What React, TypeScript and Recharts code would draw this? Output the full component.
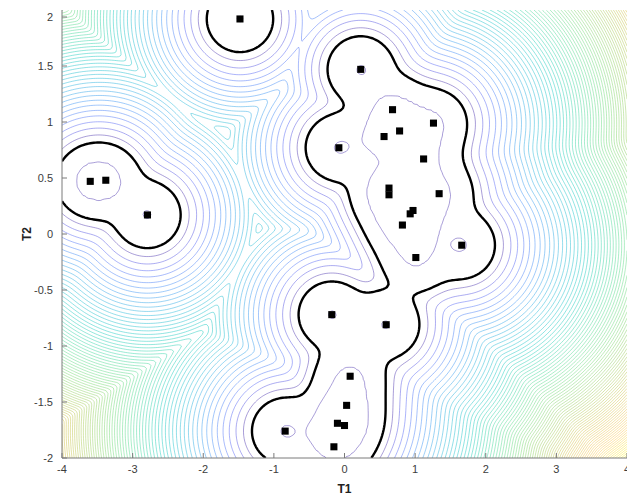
import { ComposedChart, Label, Line, Scatter, XAxis, YAxis, ZAxis } from "recharts"

// sample locations
const t1 = [
    -3.6, -3.38, -2.79, -1.48, 0.23, -0.08, 0.68, 1.26, 0.78, 0.56, 1.12, 0.63,
    0.63, 1.34, 0.97, 0.93, 0.82, 1.66, 1.01, -0.18, 0.59, 0.08, 0.03, -0.1,
    0.0, -0.15, -0.84,
]
const t2 = [
    0.47, 0.48, 0.17, 1.92, 1.47, 0.77, 1.11, 0.99, 0.92, 0.87, 0.67, 0.41,
    0.35, 0.36, 0.21, 0.18, 0.08, -0.1, -0.21, -0.72, -0.81, -1.27, -1.53,
    -1.69, -1.71, -1.9, -1.76,
]

const xTicks = [-4, -3, -2, -1, 0, 1, 2, 3, 4]
const yTicks = [-2, -1.5, -1, -0.5, 0, 0.5, 1, 1.5, 2]

// kernel settings: T2 is weighted relative to T1 before measuring distance
const bandwidth = 0.25
const t2Scale = 1.59
// potential g(d) = d + curvature * d^2 on the smoothed distance d
const curvature = 1.67
const innerLevel = 0.0128 // -log density of the inner boundary
const boundaryLevel = 1.77 // -log density of the decision boundary
const levelStep = 0.333
const colorGamma = 0.6

const samples = t1.map((x, i) => ({ x, y: t2[i] }))

const NX = 321
const NY = 161
const DX = 8 / (NX - 1)
const DY = 4 / (NY - 1)
const gx = (i: number) => -4 + i * DX
const gy = (j: number) => -2 + j * DY

const potential = (logDensity: number) => {
    const d = bandwidth * Math.sqrt(2 * Math.max(logDensity, 0))
    return d + curvature * d * d
}

const field = new Float64Array(NX * NY)
let fieldMax = -Infinity
{
    const s2 = 2 * bandwidth * bandwidth
    const q = new Float64Array(t1.length)
    for (let j = 0; j < NY; j++) {
        for (let i = 0; i < NX; i++) {
            const x = gx(i)
            const y = gy(j)
            let m = Infinity
            for (let k = 0; k < t1.length; k++) {
                q[k] = ((x - t1[k]) ** 2 + (t2Scale * (y - t2[k])) ** 2) / s2
                if (q[k] < m) m = q[k]
            }
            let s = 0
            for (let k = 0; k < t1.length; k++) s += Math.exp(m - q[k])
            const f = potential(m - Math.log(s))
            field[j * NX + i] = f
            if (f > fieldMax) fieldMax = f
        }
    }
}

type Pt = { x: number; y: number | null }

// marching squares, segments chained into polylines separated by null gaps
function contour(level: number): Pt[] {
    const NE = 2 * NX * NY
    const nbA = new Int32Array(NE).fill(-1)
    const nbB = new Int32Array(NE).fill(-1)
    const touched: number[] = []
    const link = (a: number, b: number) => {
        if (nbA[a] < 0) {
            nbA[a] = b
            touched.push(a)
        } else nbB[a] = b
        if (nbA[b] < 0) {
            nbA[b] = a
            touched.push(b)
        } else nbB[b] = a
    }
    for (let j = 0; j < NY - 1; j++) {
        for (let i = 0; i < NX - 1; i++) {
            const p = j * NX + i
            const fa = field[p]
            const fb = field[p + 1]
            const fc = field[p + NX + 1]
            const fd = field[p + NX]
            const c =
                (fa > level ? 1 : 0) |
                (fb > level ? 2 : 0) |
                (fc > level ? 4 : 0) |
                (fd > level ? 8 : 0)
            if (c === 0 || c === 15) continue
            const e0 = 2 * p
            const e1 = 2 * (p + 1) + 1
            const e2 = 2 * (p + NX)
            const e3 = 2 * p + 1
            const mid = (fa + fb + fc + fd) / 4 > level
            switch (c) {
                case 1: case 14: link(e3, e0); break
                case 2: case 13: link(e0, e1); break
                case 3: case 12: link(e3, e1); break
                case 4: case 11: link(e1, e2); break
                case 6: case 9: link(e0, e2); break
                case 7: case 8: link(e3, e2); break
                case 5:
                    if (mid) { link(e0, e1); link(e2, e3) } else { link(e3, e0); link(e1, e2) }
                    break
                case 10:
                    if (mid) { link(e3, e0); link(e1, e2) } else { link(e0, e1); link(e2, e3) }
                    break
            }
        }
    }
    const point = (e: number): Pt => {
        const cell = e >> 1
        const i = cell % NX
        const j = (cell - i) / NX
        const f0 = field[cell]
        if (e & 1) {
            const t = (level - f0) / (field[cell + NX] - f0)
            return { x: gx(i), y: gy(j) + t * DY }
        }
        const t = (level - f0) / (field[cell + 1] - f0)
        return { x: gx(i) + t * DX, y: gy(j) }
    }
    const used = new Uint8Array(NE)
    const out: Pt[] = []
    const walk = (start: number) => {
        let prev = -1
        let cur = start
        let last: Pt = point(start)
        while (cur >= 0 && !used[cur]) {
            used[cur] = 1
            last = point(cur)
            out.push(last)
            const next = nbA[cur] !== prev ? nbA[cur] : nbB[cur]
            prev = cur
            cur = next
        }
        if (cur === start) out.push(point(start))
        out.push({ x: last.x, y: null })
    }
    for (const e of touched) if (!used[e] && nbB[e] < 0) walk(e)
    for (const e of touched) if (!used[e]) walk(e)
    return out
}

// parula
const parulaStops: [number, number, number][] = [
    [0.2422, 0.1504, 0.6603],
    [0.281, 0.3228, 0.9579],
    [0.1786, 0.5289, 0.9682],
    [0.0689, 0.6948, 0.8394],
    [0.0215, 0.7797, 0.7256],
    [0.2161, 0.8366, 0.562],
    [0.397, 0.8438, 0.4128],
    [0.6029, 0.7806, 0.2882],
    [0.8283, 0.7325, 0.2055],
    [0.988, 0.7466, 0.2339],
    [0.9763, 0.9831, 0.0538],
]
function parula(t: number) {
    const v = Math.min(Math.max(t, 0), 1) * (parulaStops.length - 1)
    const k = Math.min(Math.floor(v), parulaStops.length - 2)
    const f = v - k
    const a = parulaStops[k]
    const b = parulaStops[k + 1]
    const c = a.map((x, i) => Math.round(255 * (x + (b[i] - x) * f)))
    return `rgb(${c[0]},${c[1]},${c[2]})`
}

const innerValue = potential(innerLevel)
const boundaryValue = potential(boundaryLevel)
const levels: number[] = []
for (let L = boundaryValue + levelStep; L < fieldMax; L += levelStep) levels.push(L)
const contours = levels.map((L) => contour(L))
const innerContour = contour(innerValue)
const boundaryContour = contour(boundaryValue)
const levelColor = (k: number) => parula(Math.pow(k / (levels.length - 1), colorGamma))

const axisColor = "#7a7a7a"
const textColor = "#3c3c3c"
const font = "'Liberation Sans', Arial, Helvetica, sans-serif"

const BottomTick = ({ x, y, payload }: any) => (
    <g>
        <line x1={x} x2={x} y1={y - 7} y2={y - 12} stroke={axisColor} />
        <text x={x} y={y} dy="0.71em" textAnchor="middle" fontSize={11} fill={textColor} fontFamily={font}>
            {payload.value}
        </text>
    </g>
)

const LeftTick = ({ x, y, payload }: any) => (
    <g>
        <line x1={x + 9} x2={x + 14} y1={y} y2={y} stroke={axisColor} />
        <text x={x} y={y} dy="0.355em" textAnchor="end" fontSize={11} fill={textColor} fontFamily={font}>
            {payload.value}
        </text>
    </g>
)

const TopTick = ({ x, y }: any) => <line x1={x} x2={x} y1={y} y2={y + 5} stroke={axisColor} />
const RightTick = ({ x, y }: any) => <line x1={x} x2={x - 5} y1={y} y2={y} stroke={axisColor} />

const renderT2 = ({ viewBox }: any) => {
    const cx = 19
    const cy = viewBox.y + viewBox.height / 2
    return (
        <text x={cx} y={cy} transform={`rotate(-90, ${cx}, ${cy})`} textAnchor="middle" dominantBaseline="central"
            fontSize={12} fontWeight="bold" fill="#222" fontFamily={font}>
            T2
        </text>
    )
}

const renderT1 = ({ viewBox }: any) => {
    const cx = viewBox.x + viewBox.width / 2
    return (
        <text x={cx} y={481} textAnchor="middle" dominantBaseline="central"
            fontSize={12} fontWeight="bold" fill="#222" fontFamily={font}>
            T1
        </text>
    )
}

export default function App() {
    return (
        <ComposedChart width={627} height={490} margin={{ top: 2, right: 8, bottom: 0, left: 0 }}>
            <XAxis
                dataKey="x"
                type="number"
                domain={[-4, 4]}
                ticks={xTicks}
                allowDataOverflow
                height={40}
                tickSize={0}
                tickMargin={7}
                tick={<BottomTick />}
                stroke={axisColor}
                label={<Label content={renderT1} />}
            />
            <XAxis
                xAxisId="top"
                orientation="top"
                type="number"
                domain={[-4, 4]}
                ticks={xTicks}
                allowDataOverflow
                height={0}
                tickSize={0}
                tickMargin={0}
                tick={<TopTick />}
                stroke={axisColor}
            />
            <YAxis
                dataKey="y"
                type="number"
                domain={[-2, 2]}
                ticks={yTicks}
                allowDataOverflow
                width={54}
                tickSize={0}
                tickMargin={9}
                tick={<LeftTick />}
                stroke={axisColor}
                label={<Label content={renderT2} />}
            />
            <YAxis
                yAxisId="right"
                orientation="right"
                type="number"
                domain={[-2, 2]}
                ticks={yTicks}
                allowDataOverflow
                width={0}
                tickSize={0}
                tickMargin={0}
                tick={<RightTick />}
                stroke={axisColor}
            />
            <ZAxis range={[50, 50]} />
            {contours.map((pts, k) => (
                <Line
                    key={`lvl-${k}`}
                    data={pts}
                    dataKey="y"
                    stroke={levelColor(k)}
                    strokeWidth={0.6}
                    strokeOpacity={0.75}
                    dot={false}
                    activeDot={false}
                    connectNulls={false}
                    isAnimationActive={false}
                />
            ))}
            <Line
                data={innerContour}
                dataKey="y"
                stroke={parula(0)}
                strokeWidth={0.6}
                strokeOpacity={0.75}
                dot={false}
                activeDot={false}
                connectNulls={false}
                isAnimationActive={false}
            />
            <Line
                data={boundaryContour}
                dataKey="y"
                stroke="#000"
                strokeWidth={2.4}
                dot={false}
                activeDot={false}
                connectNulls={false}
                isAnimationActive={false}
            />
            <Scatter data={samples} fill="#000" shape="square" isAnimationActive={false} />
        </ComposedChart>
    )
}
